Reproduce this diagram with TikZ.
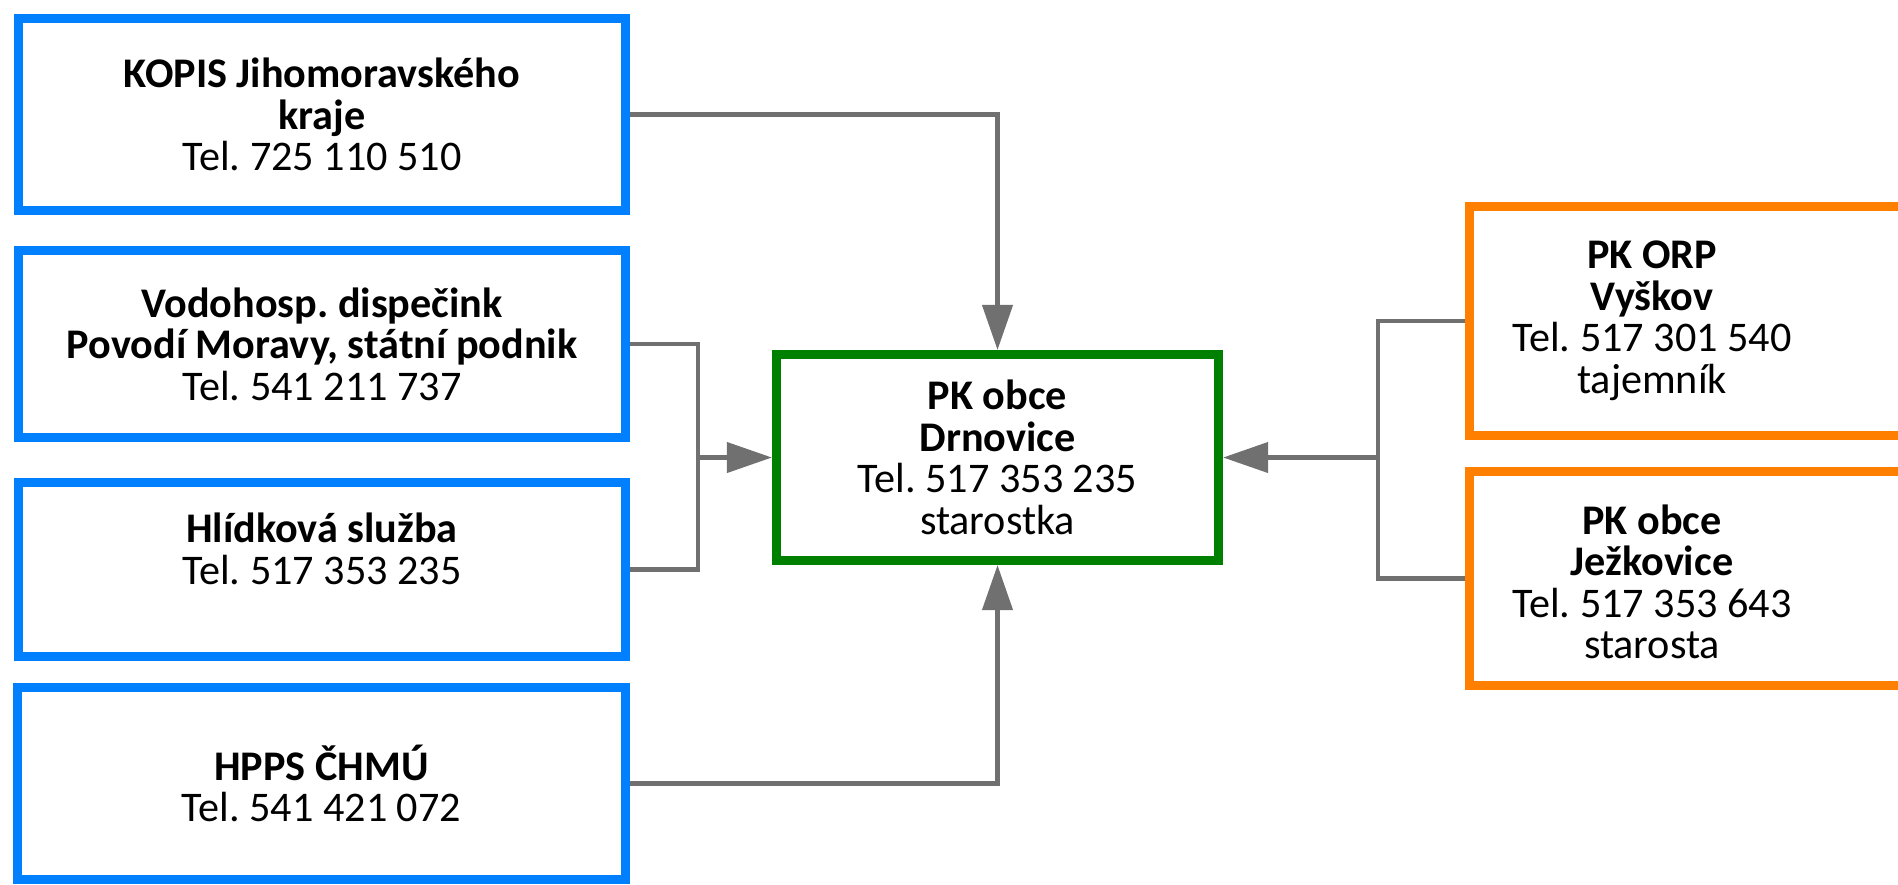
\documentclass[tikz,border=0pt]{standalone}
\usepackage{fontspec}
\setmainfont{Carlito}
\frenchspacing
\usetikzlibrary{arrows.meta}
\definecolor{boxblue}{RGB}{0,128,255}
\definecolor{boxgreen}{RGB}{0,128,0}
\definecolor{boxorange}{RGB}{255,128,0}
\definecolor{linegray}{RGB}{112,112,112}
\begin{document}
\begin{tikzpicture}[x=0.01cm, y=-0.01cm]
        \tikzstyle{every node}=[align=center, inner sep=0pt, font=\fontsize{12}{11.8}\selectfont]
        \tikzstyle{box}=[draw, rectangle, line width=0.09cm]
        \tikzstyle{bluebox}=[box, draw=boxblue, minimum width=6.07cm]
        \tikzstyle{greenbox}=[box, draw=boxgreen, minimum width=4.42cm, minimum height=2.06cm]
        \tikzstyle{orangebox}=[box, draw=boxorange, minimum width=5cm]
        \tikzstyle{link}=[color=linegray, line width=0.042cm]
        \tikzstyle{arr}=[link, -{Triangle[length=0.45cm, width=0.3cm]}]
        \useasboundingbox (0,0) rectangle (1898,884);
        \clip (0,0) rectangle (1898,884);
        \node [bluebox, minimum height=1.92cm] (kopis) at (322,114.5) {\textbf{KOPIS Jihomoravského}\\\textbf{kraje}\\Tel. 725 110 510};
        \node [bluebox, minimum height=1.87cm] (vodo) at (322,344) {\textbf{Vodohosp. dispečink}\\\textbf{Povodí Moravy, státní podnik}\\Tel. 541 211 737};
        \node [bluebox, minimum height=1.74cm] (hlid) at (322,569.5) {\textbf{Hlídková služba}\\Tel. 517 353 235\\\mbox{}};
        \node [bluebox, minimum height=1.92cm] (hpps) at (321.5,783.5) {\textbf{HPPS ČHMÚ}\\Tel. 541 421 072};
        \node [greenbox] (drn) at (997.5,457.5) {\textbf{PK obce}\\\textbf{Drnovice}\\Tel. 517 353 235\\starostka};
        \node [orangebox, minimum height=2.29cm] (orpbox) at (1719.5,321) {};
        \node (orp) at (1652,321) {\textbf{PK ORP}\\\textbf{Vyškov}\\Tel. 517 301 540\\tajemník};
        \node [orangebox, minimum height=2.14cm] (jezbox) at (1719.5,578.5) {};
        \node (jez) at (1652,582) {\textbf{PK obce}\\\textbf{Ježkovice}\\Tel. 517 353 643\\starosta};
        \coordinate (jl) at (698,457.5);
        \coordinate (jr) at (1378,457.5);
        \draw [arr] (kopis.east) -| (drn.north);
        \draw [arr] (hpps.east) -| (drn.south);
        \draw [link] (vodo.east) -| (jl) |- (hlid.east);
        \draw [arr] (jl) -- (drn.west);
        \draw [link] (orpbox.west) -| (jr) |- (jezbox.west);
        \draw [arr] (jr) -- (drn.east);
    \end{tikzpicture}
\end{document}
